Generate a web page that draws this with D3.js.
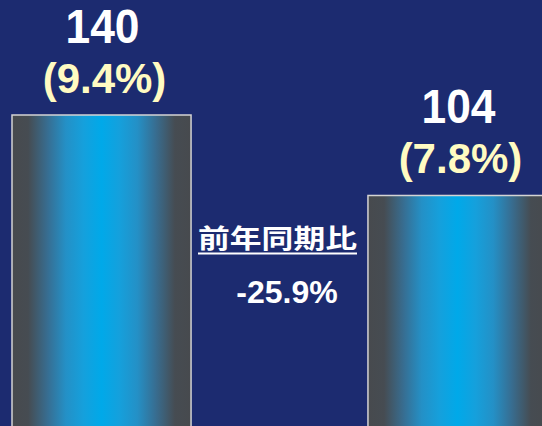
<!DOCTYPE html>
<html><head><meta charset="utf-8">
<script src="https://cdn.jsdelivr.net/npm/d3@7"></script>
<style>html,body{margin:0;padding:0;background:#1c2b70;overflow:hidden}</style>
</head><body>
<script>
const categories = ["prev", "curr"];
const values = [140, 104];
const shareLabels = ["(9.4%)", "(7.8%)"];
const changeTitle = "前年同期比";
const changeValue = "-25.9%";

const W = 542, H = 426;
const svg = d3.select("body").append("svg").attr("width", W).attr("height", H);
svg.append("rect").attr("width", W).attr("height", H).attr("fill", "#1c2b70");

const defs = svg.append("defs");
const grad = defs.append("linearGradient").attr("id", "barGrad")
  .attr("x1", "0%").attr("x2", "100%").attr("y1", "0%").attr("y2", "0%");
[[0,"#474a4e"],[0.09,"#464c52"],[0.2,"#376e92"],[0.3,"#2490c6"],[0.4,"#15a0dc"],[0.5,"#00a9e9"],
 [0.6,"#15a0dc"],[0.7,"#2490c6"],[0.8,"#376e92"],[0.91,"#464c52"],[1,"#474a4e"]].forEach(([o,c]) =>
  grad.append("stop").attr("offset", o).attr("stop-color", c));

const x = d3.scaleBand().domain(categories).range([12, 547]).paddingInner(0.497).paddingOuter(0);
const y = d3.scaleLinear().domain([0, 140]).range([428, 115]);

svg.selectAll("rect.bar").data(values).join("rect").attr("class", "bar")
  .attr("x", (d, i) => x(categories[i]))
  .attr("y", d => y(d))
  .attr("width", x.bandwidth())
  .attr("height", d => y(0) - y(d))
  .attr("fill", "url(#barGrad)")
  .attr("stroke", "#d4d4d4").attr("stroke-width", 1.5);

const font = "Liberation Sans, Arial, sans-serif";
svg.selectAll("text.val").data(values).join("text").attr("class", "val")
  .attr("x", (d, i) => x(categories[i]) + x.bandwidth() / 2 + 1)
  .attr("y", d => y(d) - 72)
  .attr("text-anchor", "middle")
  .attr("font-family", font).attr("font-weight", "bold").attr("font-size", 48)
  .attr("textLength", 74).attr("lengthAdjust", "spacingAndGlyphs")
  .attr("fill", "#ffffff").text(d => d);

svg.selectAll("text.share").data(values).join("text").attr("class", "share")
  .attr("x", (d, i) => x(categories[i]) + x.bandwidth() / 2 + 3)
  .attr("y", d => y(d) - 22)
  .attr("text-anchor", "middle")
  .attr("font-family", font).attr("font-weight", "bold").attr("font-size", 42)
  .attr("fill", "#fffbc2").text((d, i) => shareLabels[i]);

svg.append("text").attr("x", 198).attr("y", 248)
  .attr("font-family", "Noto Sans CJK JP, sans-serif").attr("font-weight", "bold").attr("font-size", 26)
  .attr("textLength", 159).attr("lengthAdjust", "spacingAndGlyphs")
  .attr("fill", "#ffffff").text(changeTitle);
svg.append("line").attr("x1", 198).attr("x2", 357).attr("y1", 253.5).attr("y2", 253.5)
  .attr("stroke", "#ffffff").attr("stroke-width", 2.2);

svg.append("text").attr("x", 287).attr("y", 303).attr("text-anchor", "middle")
  .attr("font-family", font).attr("font-weight", "bold").attr("font-size", 32)
  .attr("fill", "#ffffff").text(changeValue);
</script>
</body></html>
